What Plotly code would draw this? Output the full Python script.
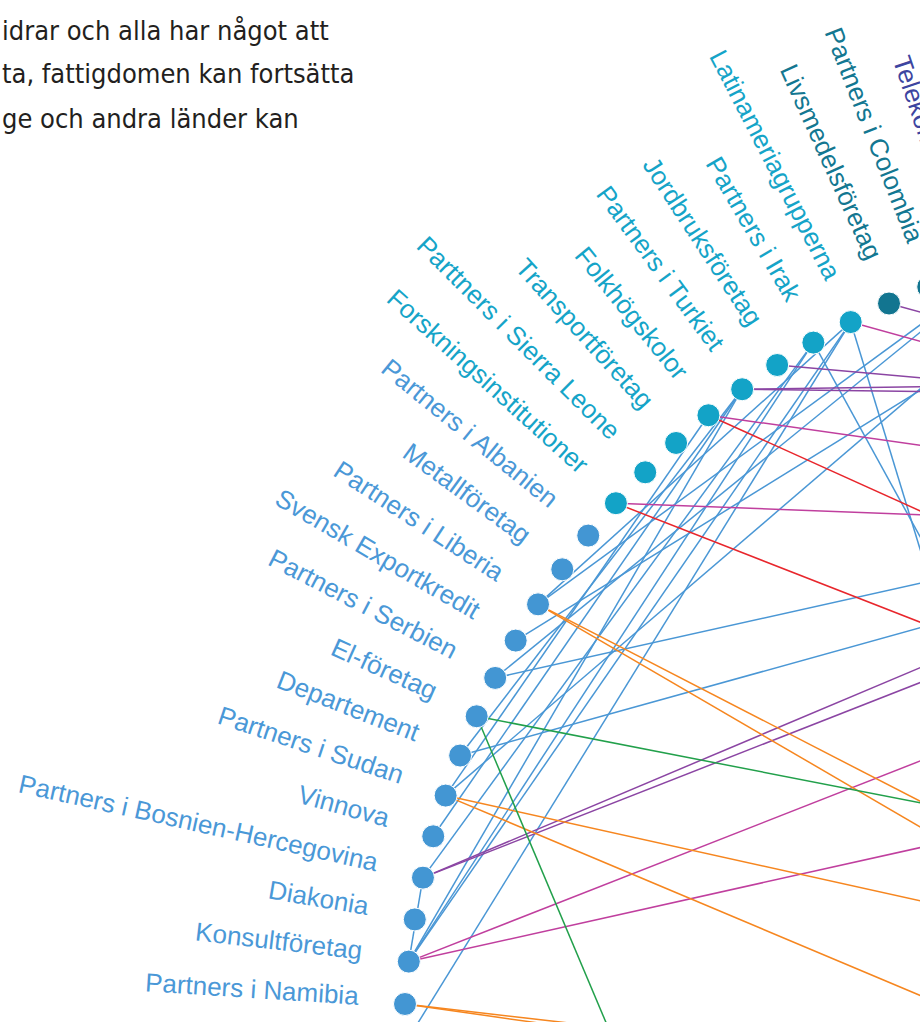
import math
import plotly.graph_objects as go

# ---------------- data ----------------
labels = [
    "Partners i Namibia", "Konsultföretag", "Diakonia", "Partners i Bosnien-Hercegovina",
    "Vinnova", "Partners i Sudan", "Departement", "El-företag", "Partners i Serbien",
    "Svensk Exportkredit", "Partners i Liberia", "Metallföretag", "Partners i Albanien",
    "Forskningsinstitutioner", "Parttners i Sierra Leone", "Transportföretag", "Folkhögskolor",
    "Partners i Turkiet", "Jordbruksföretag", "Partners i Irak", "Latinameriagrupperna",
    "Livsmedelsföretag", "Partners i Colombia", "Telekomföretag",
]
groups = ["blue"] * 13 + ["teal"] * 8 + ["dark"] * 2 + ["indigo"]
n_nodes = 122          # nodes evenly spread round the whole ring
start_deg = 176.34     # angle of node 0 (Partners i Namibia)

blue_edges = [(17, 4), (17, 1), (19, 1), (20, 1), (20, 121), (19, 3), (17, 6), (16, 5),
              (9, 28), (8, 24), (20, 10), (1, 3), (8, 42), (6, 42), (20, 88), (19, 81),
              (10, 24), (5, 26)]
purple_edges = [(21, 48), (18, 44), (17, 41), (17, 42), (3, 40), (3, 41)]
magenta_edges = [(20, 49), (16, 48), (13, 47), (1, 43), (1, 49)]
red_edges = [(16, 59), (13, 60)]
orange_edges = [(5, 62), (5, 69), (10, 67), (10, 69), (0, 63), (0, 64)]
green_edges = [(7, 59), (7, 97)]

paragraph = ["idrar och alla har något att",
             "ta, fattigdomen kan fortsätta",
             "ge och andra länder kan"]

# ---------------- style ----------------
node_colors = {"blue": "#4396d3", "teal": "#13a3c7", "dark": "#127590", "indigo": "#3d45a0"}
label_colors = {"blue": "#4a98d7", "teal": "#15a4c8", "dark": "#137791", "indigo": "#3d45a0"}
edge_sets = [
    (blue_edges, "#4a97d5"),
    (purple_edges, "#8b45a3"),
    (magenta_edges, "#c03f9e"),
    (red_edges, "#e8262c"),
    (orange_edges, "#f6861f"),
    (green_edges, "#22a04b"),
]

W, H = 920, 1022
CX, CY, RPX = 1230.3, 1056.8, 827.0   # ring centre / radius in page pixels
FS = 26
GAP = 47
XR = [(0 - CX) / RPX, (W - CX) / RPX]
YR = [(CY - H) / RPX, (CY - 0) / RPX]

ARIAL = {' ': 278, '-': 333, ',': 278, 'A': 667, 'B': 667, 'C': 722, 'D': 722, 'E': 667,
         'F': 611, 'G': 778, 'H': 722, 'I': 278, 'J': 500, 'K': 667, 'L': 556, 'M': 833,
         'N': 722, 'O': 778, 'P': 667, 'R': 722, 'S': 667, 'T': 611, 'V': 667,
         'a': 556, 'b': 556, 'c': 500, 'd': 556, 'e': 556, 'f': 278, 'g': 556, 'h': 556,
         'i': 222, 'j': 222, 'k': 500, 'l': 222, 'm': 833, 'n': 556, 'o': 556, 'p': 556,
         'r': 333, 's': 500, 't': 278, 'u': 556, 'v': 500, 'w': 722, 'x': 500, 'y': 500,
         'ö': 556, 'ä': 556, 'å': 556}


def angle(k):
    return start_deg - k * 360.0 / n_nodes


def pos(k):
    t = math.radians(angle(k))
    return math.cos(t), math.sin(t)


def text_w(s):
    return sum(ARIAL.get(c, 556) for c in s) / 1000.0 * FS


fig = go.Figure()

for edges, col in edge_sets:
    xs, ys = [], []
    for a, b in edges:
        xa, ya = pos(a)
        xb, yb = pos(b)
        xs += [xa, xb, None]
        ys += [ya, yb, None]
    fig.add_trace(go.Scatter(x=xs, y=ys, mode="lines", line=dict(color=col, width=1.5),
                             hoverinfo="skip"))

vis = list(range(len(labels)))
fig.add_trace(go.Scatter(
    x=[pos(k)[0] for k in vis], y=[pos(k)[1] for k in vis], mode="markers",
    marker=dict(size=23, color=[node_colors[groups[k]] for k in vis],
                line=dict(color="white", width=1)),
    text=labels, hoverinfo="text"))

for k, lab in enumerate(labels):
    th = math.radians(angle(k))
    o = (math.cos(th), math.sin(th))
    up = (math.sin(th), -math.cos(th))
    d = (GAP + text_w(lab) / 2) / RPX
    off = 0.2 * FS / RPX
    ux = o[0] * (1 + d) + up[0] * off
    uy = o[1] * (1 + d) + up[1] * off
    fig.add_annotation(x=(ux - XR[0]) / (XR[1] - XR[0]), y=(uy - YR[0]) / (YR[1] - YR[0]),
                       xref="paper", yref="paper", text=lab, showarrow=False,
                       textangle=180 - angle(k), xanchor="center", yanchor="middle",
                       font=dict(family="Liberation Sans, Arial, sans-serif", size=FS,
                                 color=label_colors[groups[k]]))

for i, line in enumerate(paragraph):
    ypix = 30 + 44 * i
    fig.add_annotation(x=0, y=1 - ypix / H, xref="paper", yref="paper", text=line,
                       showarrow=False, xanchor="left", yanchor="middle",
                       font=dict(family="DejaVu Sans Condensed, DejaVu Sans, sans-serif",
                                 size=27, color="#231f20"))

fig.update_xaxes(range=XR, visible=False, fixedrange=True)
fig.update_yaxes(range=YR, visible=False, fixedrange=True)
fig.update_layout(width=W, height=H, margin=dict(l=0, r=0, t=0, b=0),
                  paper_bgcolor="white", plot_bgcolor="white", showlegend=False)

fig.write_html("out.html", config={"displayModeBar": False},
               post_script="document.body.style.margin='0';")
